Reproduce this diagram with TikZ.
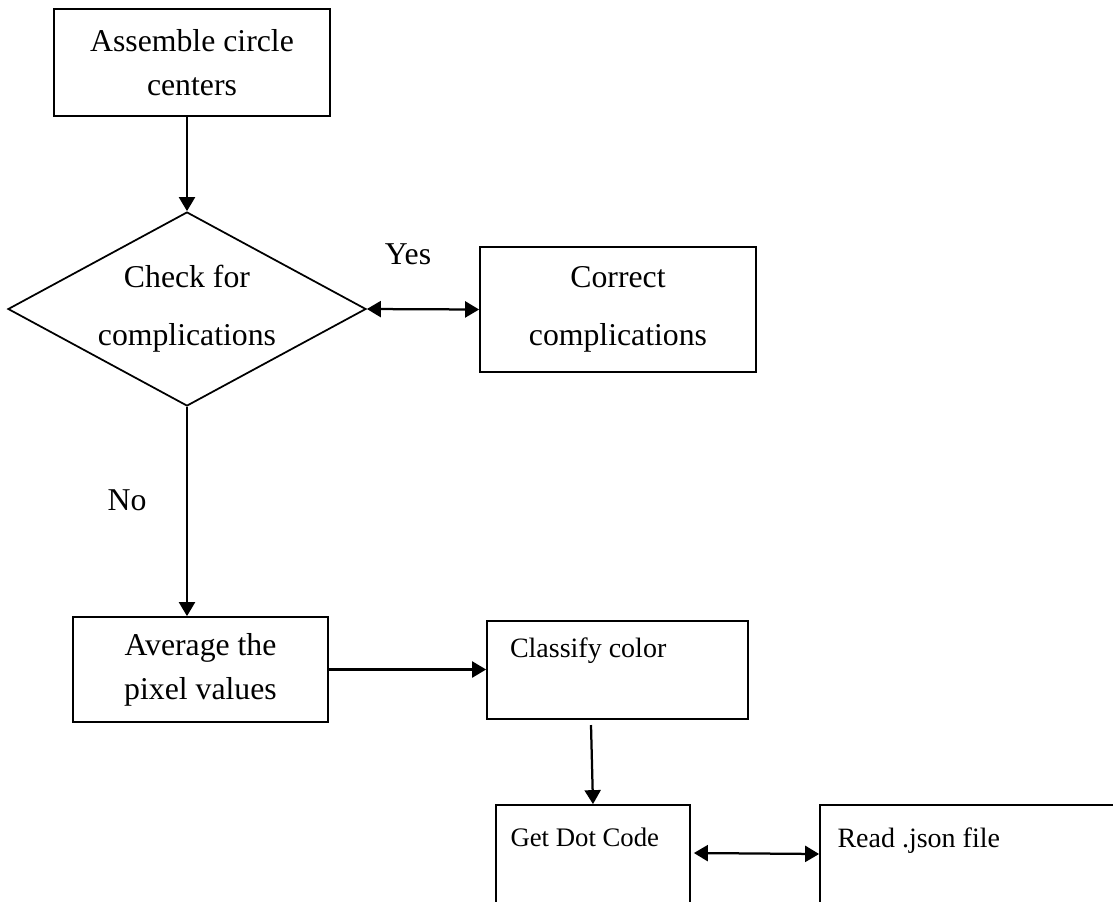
\documentclass[tikz,border=0pt]{standalone}
\usepackage{fontspec}
\setmainfont{Liberation Serif}
\usetikzlibrary{shapes.geometric,arrows.meta}
\newcommand{\pxl}{0.4pt}

\begin{document}
\begin{tikzpicture}[x=0.4pt,y=-0.4pt,
  box/.style={draw,line width=0.7pt,rectangle,inner sep=0pt,align=center,font=\fontsize{12.7}{17.6}\selectfont},
  roomy/.style={font=\fontsize{12.7}{23.2}\selectfont},
  lefttext/.style={align=flush left,font=\fontsize{11.2}{14}\selectfont},
  decision/.style={draw,line width=0.7pt,diamond,aspect=1.85,inner sep=0pt,align=center,font=\fontsize{12.7}{23.2}\selectfont},
  flow/.style={-{Triangle[length=5.6pt,width=6.4pt]},line width=0.9pt},
  twoway/.style={{Triangle[length=5.6pt,width=6.4pt]}-{Triangle[length=5.6pt,width=6.4pt]},line width=0.9pt}]
  \clip (0,0) rectangle (1113,901);
  \fill[white] (0,0) rectangle (1113,901);

  \node[box,minimum width=276*\pxl,minimum height=107*\pxl] (assemble) at (192,62.5) {Assemble circle\\centers};
  \node[decision,minimum width=358*\pxl,minimum height=194*\pxl] (check) at (187,309) {Check for\\complications};
  \node[box,roomy,minimum width=276*\pxl,minimum height=125*\pxl] (correct) at (618,309.5) {Correct\\complications};
  \node[box,minimum width=255*\pxl,minimum height=105*\pxl] (average) at (200.5,669.5) {Average the\\pixel values};
  \node[box,lefttext,text width=86pt,minimum width=261*\pxl,minimum height=98*\pxl] (classify) at (617.5,670) {Classify color\\\strut};
  \node[box,lefttext,font=\fontsize{10.7}{14}\selectfont,text width=66pt,minimum width=194*\pxl,minimum height=110*\pxl] (getdot) at (593,860) {Get Dot Code\\\strut};
  \node[box,lefttext,text width=106pt,minimum width=300*\pxl,minimum height=110*\pxl] (readjson) at (970,860) {Read .json file\\\strut};

  \node[font=\fontsize{12.7}{14}\selectfont] (yes) at (408,254) {Yes};
  \node[font=\fontsize{12.7}{14}\selectfont] (no) at (127,500) {No};

  \draw[flow] (assemble.south -| check.north) -- (check.north);
  \draw[twoway] (check.east) -- (correct.west);
  \draw[flow] (check.south) -- (check.south |- average.north);
  \draw[flow] (average.east) -- (average.east -| classify.west);
  \coordinate (cfoot) at (591,725);
  \draw[flow] (cfoot) -- (getdot.north);
  \draw[twoway] ([xshift=3*\pxl,yshift=7*\pxl]getdot.east) -- ([yshift=6*\pxl]readjson.west);
\end{tikzpicture}
\end{document}
